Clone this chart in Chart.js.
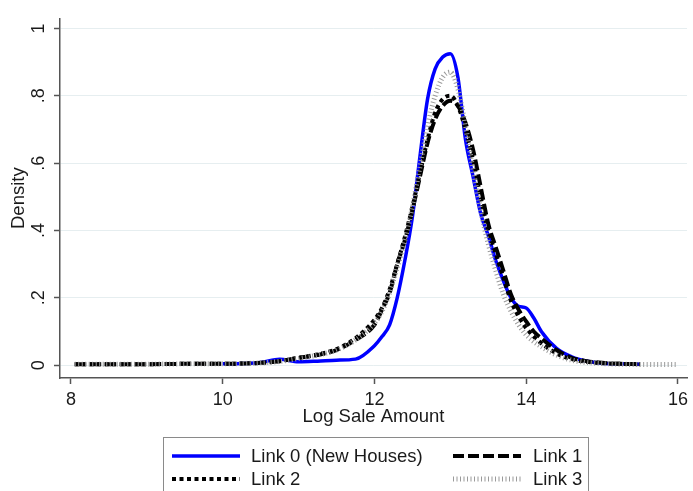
<!DOCTYPE html>
<html>
<head>
<meta charset="utf-8">
<script src="https://cdn.jsdelivr.net/npm/chart.js@4"></script>
<style>
  html, body { margin: 0; padding: 0; background: #fff; overflow: hidden; }
  #wrap { position: relative; width: 693px; height: 491px; }
  #legend { position: absolute; left: 163px; top: 437px; width: 426px; height: 70px;
            border: 1px solid #8a8a8a; box-sizing: border-box; }
  .lg-txt { position: absolute; font: 18.5px "Liberation Sans", Arial, sans-serif; line-height: 22px;
            color: #1a1a1a; white-space: nowrap; }
  .lg-svg { position: absolute; }
</style>
</head>
<body>
<div id="wrap">
  <canvas id="density" width="693" height="491"></canvas>
  <div id="legend"></div>
</div>
<script>
// log sale amount grid
const logSale = [8.05, 8.5, 9, 9.5, 10, 10.25, 10.5, 10.75, 11, 11.25, 11.5, 11.75,
  12, 12.1, 12.2, 12.3, 12.4, 12.5, 12.6, 12.7, 12.8, 12.9, 13, 13.1, 13.2, 13.3, 13.4,
  13.5, 13.6, 13.7, 13.8, 13.9, 14, 14.1, 14.2, 14.4, 14.6, 14.8, 15, 15.25, 15.5, 15.75, 16];

const link0 = [null, null, null, null, 0.004, 0.005, 0.008, 0.018, 0.01, 0.012, 0.015, 0.018,
  0.058, 0.085, 0.12, 0.2, 0.31, 0.44, 0.62, 0.79, 0.88, 0.915, 0.925, 0.855, 0.67, 0.56, 0.45,
  0.385, 0.31, 0.25, 0.2, 0.175, 0.17, 0.14, 0.1, 0.05, 0.025, 0.012, 0.006, 0.004, 0.003, null, null];

const link1 = [0.003, 0.003, 0.003, 0.004, 0.004, 0.005, 0.007, 0.012, 0.022, 0.03, 0.045, 0.075,
  0.12, 0.165, 0.215, 0.3, 0.37, 0.46, 0.56, 0.66, 0.73, 0.77, 0.785, 0.77, 0.72, 0.64, 0.53,
  0.42, 0.35, 0.28, 0.21, 0.165, 0.13, 0.1, 0.08, 0.045, 0.022, 0.012, 0.007, 0.004, 0.003, null, null];

const link2 = [0.003, 0.003, 0.003, 0.004, 0.004, 0.005, 0.007, 0.012, 0.022, 0.032, 0.048, 0.08,
  0.135, 0.17, 0.225, 0.3, 0.38, 0.47, 0.57, 0.67, 0.75, 0.79, 0.8, 0.77, 0.7, 0.61, 0.5,
  0.4, 0.33, 0.26, 0.19, 0.145, 0.11, 0.085, 0.065, 0.035, 0.018, 0.01, 0.006, 0.004, 0.003, null, null];

const link3 = [0.003, 0.003, 0.003, 0.004, 0.004, 0.005, 0.007, 0.011, 0.02, 0.03, 0.045, 0.075,
  0.125, 0.16, 0.215, 0.29, 0.37, 0.47, 0.59, 0.71, 0.8, 0.855, 0.87, 0.82, 0.71, 0.58, 0.46,
  0.36, 0.28, 0.21, 0.16, 0.12, 0.09, 0.07, 0.055, 0.03, 0.015, 0.008, 0.005, 0.003, 0.002, 0.002, 0.002];

const xTicks = [8, 10, 12, 14, 16];
const yTicks = [0, 0.2, 0.4, 0.6, 0.8, 1];
const yTickLabels = ["0", ".2", ".4", ".6", ".8", "1"];

const seriesNames = ["Link 0 (New Houses)", "Link 1", "Link 2", "Link 3"];
const styles = [
  { color: '#0000ff', width: 3.5, dash: [] },
  { color: '#000000', width: 4, dash: [11, 4] },
  { color: '#000000', width: 4, dash: [4, 3.5] },
  { color: '#9a9a9a', width: 5, dash: [1, 2.5] },
];

function points(ys) {
  return logSale.map((x, i) => ({ x: x, y: ys[i] })).filter(p => p.y !== null);
}

const allSeries = [link0, link1, link2, link3];
const datasets = allSeries.map((ys, i) => ({
  label: seriesNames[i],
  data: points(ys),
  borderColor: styles[i].color,
  borderWidth: styles[i].width,
  borderDash: styles[i].dash,
  pointRadius: 0,
  cubicInterpolationMode: 'monotone',
  fill: false,
  order: 4 - i,
}));

const font18 = { family: '"Liberation Sans", Arial, sans-serif', size: 18 };
const fontTitle = { family: '"Liberation Sans", Arial, sans-serif', size: 18.5 };

const ctx = document.getElementById('density').getContext('2d');
const densityChart = new Chart(ctx, {
  type: 'line',
  data: { datasets: datasets },
  options: {
    responsive: false,
    animation: false,
    layout: { padding: { top: 14, right: 3, left: 0, bottom: 63 } },
    plugins: { legend: { display: false }, tooltip: { enabled: false } },
    scales: {
      x: {
        type: 'linear',
        min: 7.856,
        max: 16.12,
        afterBuildTicks: s => { s.ticks = xTicks.map(v => ({ value: v })); },
        afterFit: s => { s.height = 50; },
        ticks: { font: font18, color: '#1a1a1a', padding: 5, maxRotation: 0 },
        grid: { drawOnChartArea: false, tickLength: 6, tickColor: '#555', tickWidth: 1.5 },
        border: { color: '#555', width: 1.5 },
        title: { display: true, text: 'Log Sale Amount', font: fontTitle, color: '#1a1a1a',
                 padding: { top: 0, bottom: 0 } },
      },
      y: {
        min: -0.038,
        max: 1.03,
        afterBuildTicks: s => { s.ticks = yTicks.map(v => ({ value: v })); },
        afterFit: s => { s.width = 60; },
        ticks: {
          font: font18, color: '#1a1a1a', padding: 7.5, minRotation: 90, maxRotation: 90,
          crossAlign: 'center',
          callback: v => yTickLabels[yTicks.findIndex(t => Math.abs(t - v) < 1e-9)],
        },
        grid: { color: '#e6eef0', lineWidth: 1, tickLength: 6, tickColor: '#555', tickWidth: 1.5 },
        border: { color: '#555', width: 1.5 },
        title: { display: true, text: 'Density', font: fontTitle, color: '#1a1a1a',
                 padding: { top: 8, bottom: 0 } },
      },
    },
  },
});

// legend, two columns like the original
const legend = document.getElementById('legend');
const legendPos = [[8, 87, 18], [289, 369, 18], [8, 87, 41], [289, 369, 41]];
const legendOrder = [0, 1, 2, 3];
legendOrder.forEach((k, j) => {
  const [sx, tx, cy] = legendPos[j];
  const st = styles[k];
  const svg = document.createElementNS('http://www.w3.org/2000/svg', 'svg');
  svg.setAttribute('class', 'lg-svg');
  svg.setAttribute('width', '68');
  svg.setAttribute('height', '10');
  svg.style.left = sx + 'px';
  svg.style.top = (cy - 5) + 'px';
  const line = document.createElementNS('http://www.w3.org/2000/svg', 'line');
  line.setAttribute('x1', '0'); line.setAttribute('x2', '68');
  line.setAttribute('y1', '5'); line.setAttribute('y2', '5');
  line.setAttribute('stroke', st.color);
  line.setAttribute('stroke-width', st.width);
  if (st.dash.length) line.setAttribute('stroke-dasharray', st.dash.join(' '));
  svg.appendChild(line);
  legend.appendChild(svg);
  const t = document.createElement('span');
  t.className = 'lg-txt';
  t.textContent = seriesNames[k];
  t.style.left = tx + 'px';
  t.style.top = (cy - 11) + 'px';
  legend.appendChild(t);
});
</script>
</body>
</html>
